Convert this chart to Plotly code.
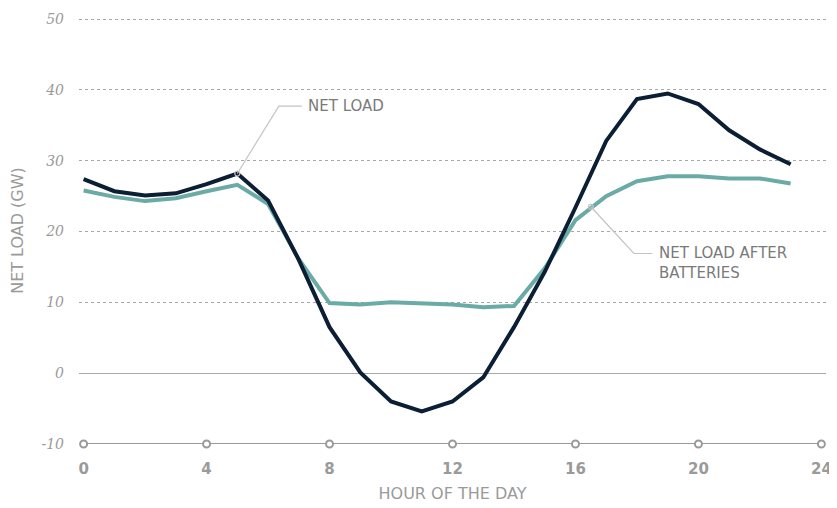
import plotly.graph_objects as go

hours = list(range(24))
net_load = [27.4, 25.7, 25.1, 25.4, 26.7, 28.2, 24.4, 16.0, 6.5, 0.1, -4.0, -5.4,
            -4.0, -0.6, 6.5, 14.3, 23.4, 32.8, 38.7, 39.5, 38.0, 34.3, 31.6, 29.5]
net_load_batt = [25.8, 24.9, 24.3, 24.7, 25.7, 26.6, 23.9, 16.1, 9.9, 9.7, 10.0, 9.9,
                 9.7, 9.3, 9.5, 14.8, 21.6, 25.0, 27.1, 27.8, 27.8, 27.5, 27.5, 26.8]
x_ticks = [0, 4, 8, 12, 16, 20, 24]
y_ticks = [-10, 0, 10, 20, 30, 40, 50]
y_labels = ["-10", "0", "10", "20", "30", "40", "50"]

GREY = "#9a9a9a"
TEXT = "#7a7a7a"
NAVY = "#0b1e33"
TEAL = "#6aaba6"
SANS = "DejaVu Sans"

fig = go.Figure()

fig.add_trace(go.Scatter(x=hours, y=net_load_batt, mode="lines",
                         line=dict(color=TEAL, width=4), hoverinfo="skip"))
fig.add_trace(go.Scatter(x=hours, y=net_load, mode="lines",
                         line=dict(color=NAVY, width=4), hoverinfo="skip"))

# cerchietti sull'asse x in corrispondenza dei tick
fig.add_trace(go.Scatter(x=x_ticks, y=[y_ticks[0]] * len(x_ticks), mode="markers",
                         marker=dict(symbol="circle", size=7, color="white",
                                     line=dict(color=GREY, width=2)),
                         cliponaxis=False, hoverinfo="skip"))


def leader(pts, label, tx, ty):
    """Linea guida a gomito + etichetta."""
    path = "M " + " L ".join(f"{x},{y}" for x, y in pts)
    fig.add_shape(type="path", path=path, xref="x", yref="y",
                  line=dict(color="#c4c4c4", width=1.2))
    fig.add_trace(go.Scatter(x=[pts[0][0]], y=[pts[0][1]], mode="markers",
                             marker=dict(symbol="circle-open", size=5,
                                         color="#c4c4c4", line=dict(width=1.2)),
                             hoverinfo="skip"))
    fig.add_annotation(x=tx, y=ty, xref="x", yref="y", text=label,
                       showarrow=False, xanchor="left", yanchor="middle",
                       align="left",
                       font=dict(size=15, color=TEXT, family=SANS))


leader([(5, 28.2), (6.35, 37.7), (7.1, 37.7)], "NET LOAD", 7.25, 37.7)
leader([(16.5, 23.5), (17.9, 16.9), (18.5, 16.9)],
       "NET LOAD AFTER<br>BATTERIES", 18.65, 15.5)

fig.update_xaxes(range=[-0.15, 24.15], tickvals=x_ticks, showgrid=False,
                 zeroline=False, showline=False, automargin=False,
                 tickfont=dict(size=15, color=GREY, family=SANS, weight="bold"),
                 ticklabelstandoff=14,
                 title=dict(text="HOUR OF THE DAY", standoff=10,
                            font=dict(size=16, color=GREY, family=SANS)))
fig.update_yaxes(range=[-10, 50.3], tickvals=y_ticks, ticktext=y_labels,
                 showgrid=True, automargin=False,
                 gridcolor="#a8a8a8", griddash="3px,3px", gridwidth=1,
                 zeroline=True, zerolinecolor="#a8a8a8", zerolinewidth=1.3,
                 tickfont=dict(size=14, color=GREY, family="DejaVu Serif",
                               style="italic"),
                 ticklabelstandoff=14,
                 title=dict(text="NET LOAD (GW)", standoff=14,
                            font=dict(size=16, color=GREY, family=SANS)))

# asse x disegnato come linea a y = -10
fig.add_shape(type="line", xref="x", yref="y", x0=x_ticks[0], x1=x_ticks[-1],
              y0=y_ticks[0], y1=y_ticks[0], line=dict(color=GREY, width=2),
              layer="below")

# la pagina aggiunge 8px di margine al body: figura ridotta di conseguenza
fig.update_layout(
    width=829, height=500, showlegend=False,
    paper_bgcolor="white", plot_bgcolor="white",
    margin=dict(l=71, r=11, t=9, b=64),
)

fig.write_html("out.html")
